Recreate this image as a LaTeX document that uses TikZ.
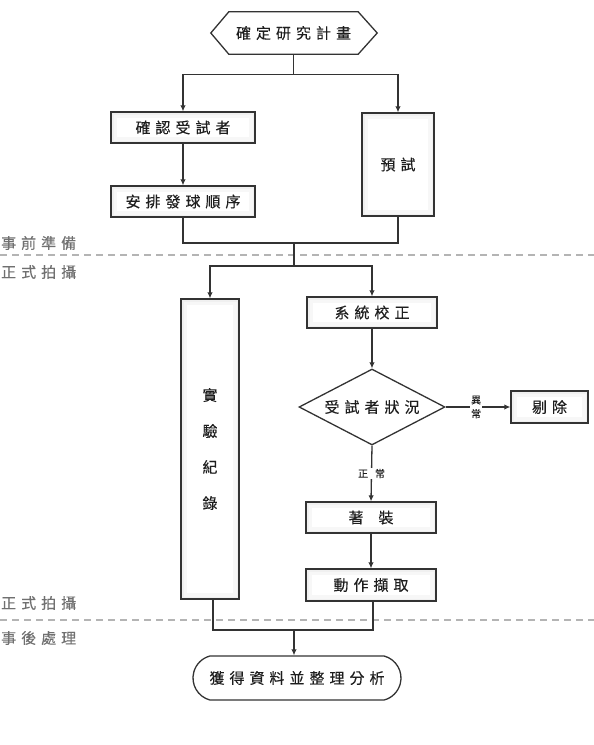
\documentclass[tikz,border=0pt]{standalone}
\usepackage{fontspec}
\setmainfont{Noto Sans CJK TC}[FakeBold=0.25]
\usetikzlibrary{shapes.geometric,shapes.misc,arrows.meta}
\definecolor{linec}{HTML}{333333}
\definecolor{textc}{HTML}{1E1E1E}
\definecolor{sidec}{HTML}{707070}
\definecolor{dashc}{HTML}{B4B4B4}
\newlength\charsep
\setlength\charsep{5pt}
\def\sploop#1{\ifx\relax#1\else#1\hskip\charsep\relax\expandafter\sploop\fi}
\newcommand\spc[1]{\sploop#1\relax\unskip}
\tikzset{
  line/.style={draw=linec, line width=1.3pt},
  arr/.style={line, -{Latex[length=6pt,width=5.5pt]}},
  glow/.style={path picture={
      \draw[black!3, line width=12pt] (path picture bounding box.south west) rectangle (path picture bounding box.north east);
      \draw[black!6, line width=5pt] (path picture bounding box.south west) rectangle (path picture bounding box.north east);}},
  box/.style={draw=linec, line width=1.3pt, fill=white, glow, inner sep=0pt,
     text=textc, font=\fontsize{15}{18}\selectfont},
  small/.style={fill=white, text=textc, inner sep=1pt, font=\fontsize{10}{14}\selectfont, align=center},
  side/.style={anchor=west, inner sep=0pt, text=sidec, font=\fontsize{15}{18}\selectfont},
  dashline/.style={draw=dashc, line width=1.2pt, dash pattern=on 7pt off 5pt}
}
\begin{document}
\begin{tikzpicture}[x=1pt,y=-1pt]
\useasboundingbox (0,0) rectangle (594,745);
% section separators
\draw[dashline] (0,255) -- (594,255);
\draw[dashline] (0,620) -- (594,620);
\node[side] (s1) at (1,243) {\spc{事前準備}};
\node[side] (s2) at (1,272) {\spc{正式拍攝}};
\node[side] (s3) at (1,603) {\spc{正式拍攝}};
\node[side] (s4) at (1,638) {\spc{事後處理}};
% start hexagon
\node[inner sep=0pt, minimum width=129pt, minimum height=42pt, text=textc, font=\fontsize{15}{18}\selectfont] (hex) at (293.5,33) {\spc{確定研究計畫}};
\draw[line] (hex.north west) -- (hex.north east) -- ([xshift=19pt]hex.east) -- (hex.south east) -- (hex.south west) -- ([xshift=-18pt]hex.west) -- cycle;
% boxes
\node[box, minimum width=144pt, minimum height=31pt] (b1) at (183,127.5) {\spc{確認受試者}};
\node[box, minimum width=144pt, minimum height=31pt] (b2) at (183,201.5) {\spc{安排發球順序}};
\node[box, minimum width=72pt, minimum height=103pt] (pre) at (398,164.5) {\spc{預試}};
\node[box, minimum width=58pt, minimum height=300pt, align=center, font=\fontsize{15}{36}\selectfont] (rec) at (210,449) {實\\驗\\紀\\錄};
\node[box, minimum width=130pt, minimum height=31pt] (cal) at (372,312.5) {\spc{系統校正}};
\node[draw=linec, line width=1.3pt, fill=white, diamond, aspect=1.92, minimum width=146pt, minimum height=76pt, inner sep=0pt, text=textc, font=\fontsize{15}{18}\selectfont] (dia) at (372,407) {\spc{受試者狀況}};
\node[box, minimum width=77pt, minimum height=32pt] (rej) at (549.5,407) {\spc{剔除}};
\node[box, minimum width=130pt, minimum height=31pt] (wear) at (371,517.5) {著\hskip15pt 裝};
\node[box, minimum width=130pt, minimum height=32pt] (cap) at (371,585) {\spc{動作擷取}};
\node[draw=linec, line width=1.3pt, fill=white, rounded rectangle, rounded rectangle arc length=150, minimum width=208pt, minimum height=44pt, inner sep=0pt, text=textc, font=\fontsize{15}{18}\selectfont] (term) at (297,678) {\spc{獲得資料並整理分析}};
% connectors: top
\draw[line] (hex.south) -- ++(0,20) coordinate (j1);
\draw[arr] (j1) -| (b1.north);
\draw[arr] (j1) -| (pre.north);
\draw[arr] (b1) -- (b2);
\coordinate (j2) at (294,243);
\draw[line] (b2.south) |- (j2);
\draw[line] (pre.south) |- (j2);
\draw[line] (j2) -- (294,266) coordinate (j3);
\draw[arr] (j3) -| (rec.north);
\draw[arr] (j3) -| (cal.north);
% right column
\draw[arr] (cal) -- (dia);
\draw[arr] (dia.east) -- node[small, pos=0.47] (lab1) {異\\常} (rej.west);
\draw[arr] (dia.south) -- node[small, pos=0.5] (lab2) {正\hskip7pt 常} (wear.north);
\draw[arr] (wear) -- (cap);
% bottom merge
\coordinate (j4) at (294,630);
\draw[line] ([xshift=3pt]rec.south) |- (j4);
\draw[line] ([xshift=2pt]cap.south) |- (j4);
\draw[arr] (j4) -- (j4 |- term.north);
\end{tikzpicture}
\end{document}
